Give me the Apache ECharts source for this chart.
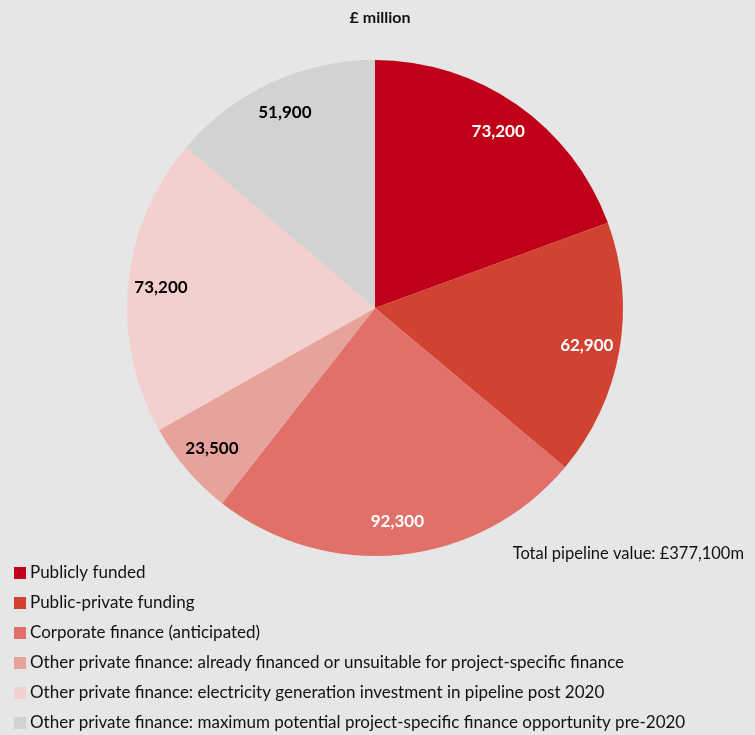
<!DOCTYPE html>
<html>
<head>
<meta charset="utf-8">
<script src="https://cdn.jsdelivr.net/npm/echarts@6/dist/echarts.min.js"></script>
<style>
html,body{margin:0;padding:0;background:#e6e6e6;}
#chart{width:755px;height:735px;}
</style>
</head>
<body>
<div id="chart"></div>
<script>
const categories = [
  "Publicly funded",
  "Public-private funding",
  "Corporate finance (anticipated)",
  "Other private finance: already financed or unsuitable for project-specific finance",
  "Other private finance: electricity generation investment in pipeline post 2020",
  "Other private finance: maximum potential project-specific finance opportunity pre-2020"
];
const values = [73200, 62900, 92300, 23500, 73200, 51900];
const colors = ["#c00018", "#d24232", "#e07068", "#e8a29c", "#f3d0cd", "#d2d2d2"];
const labelColors = ["#ffffff", "#ffffff", "#ffffff", "#000000", "#000000", "#000000"];
const titleText = "£ million";
const totalText = "Total pipeline value: £377,100m";

const fmt = v => v.toLocaleString('en-GB');
const font = "Lato, 'Open Sans', sans-serif";

const chart = echarts.init(document.getElementById('chart'));
const data = categories.map((c, i) => ({
  name: c, value: values[i], itemStyle: {color: colors[i]}
}));
const labelData = categories.map((c, i) => ({
  name: c, value: values[i],
  itemStyle: {color: 'rgba(0,0,0,0)'},
  label: {color: labelColors[i]}
}));
chart.setOption({
  backgroundColor: '#e6e6e6',
  animation: false,
  title: [{
    text: titleText, left: 375, top: 5, textAlign: 'center',
    textStyle: {fontFamily: font, fontSize: 16, fontWeight: 'bold', color: '#111'}
  }, {
    text: totalText, right: 6, top: 540,
    textStyle: {fontFamily: font, fontSize: 16.5, fontWeight: 'normal', color: '#111'}
  }],
  legend: {
    orient: 'vertical', left: 14, top: 563, height: 172, padding: 0,
    itemWidth: 12, itemHeight: 12, itemGap: 10, icon: 'rect',
    data: categories,
    textStyle: {fontFamily: font, fontSize: 17, lineHeight: 20, color: '#111', padding: [0,0,0,-1]}
  },
  series: [{
    type: 'pie', center: [375, 308], radius: [0, 248],
    startAngle: 90, clockwise: true,
    data: data, label: {show: false}, labelLine: {show: false},
    silent: true
  }, {
    type: 'pie', center: [375, 308], radius: [176, 248],
    startAngle: 90, clockwise: true, silent: true,
    data: labelData, labelLine: {show: false},
    label: {show: true, position: 'inside', formatter: p => fmt(p.value),
      fontFamily: font, fontSize: 17, fontWeight: 'bold'}
  }]
});
</script>
</body>
</html>
